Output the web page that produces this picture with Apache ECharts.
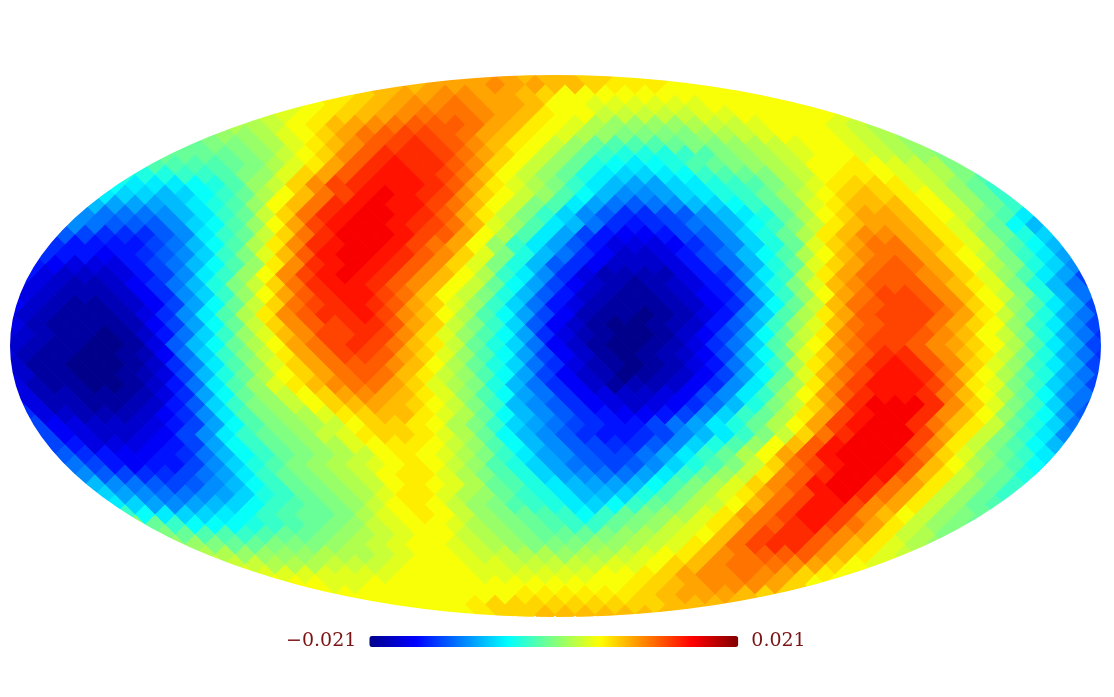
<!DOCTYPE html>
<html>
<head>
<meta charset="utf-8">
<style>html,body{margin:0;padding:0;background:#fff}#chart{width:1114px;height:697px}</style>
<script src="https://cdn.jsdelivr.net/npm/echarts@6/dist/echarts.min.js"></script>
</head>
<body>
<div id="chart"></div>
<script>
// map values in units of 0.001, one list per lattice row from the north pole down
var mapRows = [
[8,8,9,9,9,9,8,8,8,7,7,6,6,6,5,5],
[8,8,9,9,9,10,9,9,8,8,7,6,6,6,5,5,5],
[6,7,8,9,9,10,10,9,9,8,7,5,5,5,5,5,5,5,5,5,5,5],
[4,5,6,7,8,9,10,10,11,10,9,9,8,5,5,4,4,4,4,4,4,5,5,5,5,5,5],
[3,4,5,6,7,8,9,10,11,11,11,10,9,8,6,5,5,3,3,3,3,3,4,4,5,5,5,5,5,4],
[2,2,3,5,6,8,9,10,11,12,12,12,11,9,8,6,5,4,2,1,1,1,1,2,3,3,4,5,5,5,4,3,2],
[0,1,1,2,4,5,7,9,11,12,13,13,12,11,9,8,6,5,4,2,1,0,0,0,0,1,2,3,4,5,5,5,4,3,2,1],
[-1,-1,0,0,1,2,4,6,8,10,12,13,14,13,12,10,8,6,5,3,1,-1,-2,-2,-2,-1,0,0,1,2,3,4,5,5,4,3,2,1,0],
[-1,-1,-1,-1,0,1,3,5,7,10,12,14,14,14,13,11,9,7,5,3,1,-1,-3,-4,-4,-4,-3,-2,0,1,2,3,4,5,5,4,3,2,1,0],
[-3,-2,-2,-2,-2,-1,0,2,4,6,9,12,14,15,14,14,12,10,7,5,3,1,-1,-4,-5,-6,-5,-4,-2,-1,0,1,2,3,5,5,6,5,4,3,2,0,-1],
[-4,-4,-4,-3,-3,-2,0,1,4,7,9,12,14,15,15,14,13,11,8,5,3,1,-1,-4,-6,-7,-7,-6,-5,-3,-2,-1,0,2,3,5,6,6,5,4,3,2,0,-2],
[-5,-6,-6,-6,-5,-4,-2,1,3,7,10,13,14,15,15,15,14,12,9,6,4,2,0,-3,-6,-8,-9,-9,-7,-6,-4,-3,-2,0,2,4,6,7,7,6,4,3,1,-1,-3],
[-7,-6,-7,-7,-8,-7,-5,-3,-1,2,5,8,11,13,15,16,15,14,13,10,7,5,3,1,-2,-5,-8,-10,-10,-9,-7,-6,-4,-3,-1,1,3,5,7,8,7,6,5,3,1,-1,-3,-5],
[-8,-8,-9,-9,-9,-8,-6,-4,-2,1,5,8,11,14,15,16,15,15,13,11,8,5,3,0,-2,-6,-9,-11,-12,-11,-10,-8,-7,-5,-3,-1,1,4,6,8,8,8,6,5,3,1,-1,-3,-6],
[-9,-10,-11,-11,-11,-10,-8,-6,-3,-1,3,7,11,14,15,16,16,15,14,12,9,6,3,0,-3,-7,-10,-12,-14,-14,-13,-12,-10,-8,-6,-4,-1,2,5,7,9,9,8,6,5,3,0,-2,-6,-9],
[-10,-10,-11,-12,-12,-12,-10,-7,-5,-2,1,5,9,13,15,16,16,15,14,13,11,8,4,1,-2,-6,-8,-11,-14,-15,-14,-13,-11,-10,-8,-5,-3,0,3,6,8,9,9,8,6,4,2,-1,-5,-8,-10],
[-11,-12,-13,-14,-14,-14,-12,-10,-6,-3,-1,3,7,11,14,16,16,16,15,13,12,9,5,2,-2,-6,-9,-13,-15,-16,-16,-15,-13,-12,-10,-7,-4,-1,2,6,8,10,10,9,8,6,4,1,-1,-4,-7,-10],
[-12,-14,-15,-15,-15,-15,-13,-11,-8,-5,-2,2,6,10,14,15,16,16,15,13,11,9,5,1,-3,-6,-9,-12,-15,-17,-17,-17,-16,-14,-12,-10,-7,-4,-1,4,7,9,11,11,9,8,6,4,1,-2,-5,-8,-11],
[-13,-14,-15,-15,-16,-15,-14,-12,-10,-7,-3,0,4,8,12,15,16,16,15,14,12,10,7,4,0,-4,-8,-11,-14,-16,-18,-18,-17,-15,-13,-11,-8,-5,-2,2,5,8,10,11,11,9,7,5,3,0,-3,-6,-9,-12],
[-14,-15,-16,-17,-17,-17,-15,-13,-11,-8,-5,-2,1,6,10,14,15,16,15,14,12,10,7,4,0,-4,-8,-12,-14,-16,-18,-18,-18,-17,-15,-13,-11,-8,-4,-1,4,7,9,11,12,11,9,7,5,2,0,-4,-7,-10,-13],
[-15,-17,-18,-18,-18,-17,-15,-13,-10,-6,-3,1,5,10,13,15,16,15,14,12,10,8,5,2,-3,-6,-10,-14,-17,-19,-19,-19,-19,-17,-15,-14,-10,-6,-3,2,6,9,11,12,12,10,9,7,4,1,-2,-6,-9,-13],
[-15,-17,-18,-19,-19,-18,-16,-14,-11,-8,-4,0,3,7,11,14,15,15,14,12,10,8,5,3,-1,-5,-9,-13,-16,-18,-19,-20,-19,-18,-17,-15,-13,-8,-4,0,4,8,10,12,12,12,10,8,6,4,0,-4,-8,-11,-14],
[-15,-17,-18,-19,-19,-19,-18,-16,-14,-10,-7,-3,1,5,9,12,14,15,15,13,11,8,5,3,0,-4,-8,-12,-15,-18,-19,-20,-20,-19,-18,-16,-15,-12,-7,-3,1,5,9,11,13,13,12,10,8,5,3,0,-4,-8,-11,-14],
[-16,-18,-19,-20,-20,-19,-18,-16,-13,-9,-5,-1,3,7,11,13,14,15,14,12,9,7,4,1,-3,-7,-11,-15,-17,-19,-20,-20,-20,-19,-18,-16,-14,-10,-5,-1,3,8,11,12,13,13,12,10,7,5,1,-2,-6,-9,-13],
[-16,-18,-19,-20,-20,-20,-19,-17,-14,-10,-6,-2,2,6,10,12,14,14,15,13,10,8,5,2,-2,-5,-9,-13,-16,-19,-20,-20,-21,-20,-19,-17,-15,-11,-7,-2,2,6,9,12,13,13,13,11,9,6,3,0,-4,-8,-11,-14],
[-16,-17,-19,-20,-20,-20,-20,-19,-16,-13,-9,-5,-1,3,7,10,12,13,14,14,12,9,7,3,0,-3,-7,-12,-16,-18,-20,-21,-21,-20,-19,-18,-15,-12,-8,-3,1,4,8,11,12,13,13,11,9,7,5,1,-3,-6,-10,-13,-15],
[-17,-18,-19,-20,-20,-21,-20,-18,-15,-11,-7,-3,1,4,8,10,13,13,14,13,10,7,4,1,-2,-5,-9,-14,-17,-19,-20,-21,-21,-20,-18,-16,-13,-10,-5,-1,3,6,10,12,13,13,12,10,8,5,3,0,-4,-8,-11,-14],
[-17,-18,-19,-20,-20,-21,-21,-20,-17,-12,-8,-5,-1,2,5,9,11,13,14,13,11,8,6,3,-1,-4,-7,-11,-16,-18,-20,-21,-21,-20,-19,-17,-14,-11,-7,-2,2,5,9,11,13,13,12,10,9,7,5,2,-2,-6,-9,-13,-15],
[-17,-19,-20,-20,-21,-21,-20,-19,-16,-11,-7,-3,0,3,6,9,11,13,13,12,9,7,4,1,-2,-5,-9,-13,-16,-18,-20,-21,-20,-19,-18,-16,-13,-9,-5,-1,4,7,10,12,14,14,12,10,8,6,3,0,-4,-8,-11,-14],
[-17,-18,-20,-20,-21,-21,-21,-20,-18,-14,-10,-6,-2,1,4,7,9,11,12,12,10,8,5,2,-1,-4,-7,-11,-14,-17,-19,-20,-21,-20,-19,-17,-15,-11,-7,-3,2,6,9,12,14,15,14,12,10,7,4,1,-3,-6,-9,-13,-15],
[-17,-18,-20,-20,-21,-21,-20,-19,-17,-13,-8,-4,-1,2,5,7,9,11,12,11,8,6,3,1,-2,-5,-9,-13,-16,-18,-19,-21,-20,-19,-18,-16,-13,-9,-5,-1,4,8,11,13,15,15,14,11,8,5,2,-1,-4,-8,-11,-13],
[-17,-19,-20,-20,-21,-21,-20,-18,-15,-11,-6,-2,1,4,6,8,10,11,11,9,7,4,2,0,-4,-8,-11,-14,-16,-18,-20,-19,-19,-18,-16,-14,-10,-6,-1,2,6,10,13,15,15,15,13,10,6,4,0,-3,-7,-10,-13],
[-16,-17,-19,-19,-20,-20,-20,-19,-17,-14,-9,-5,-1,1,3,5,7,9,10,9,8,6,4,1,-2,-5,-9,-11,-14,-16,-17,-18,-18,-17,-16,-13,-10,-6,-3,1,5,9,12,14,15,15,14,11,8,5,2,-1,-5,-9,-11,-13],
[-15,-17,-19,-19,-20,-20,-19,-18,-15,-12,-7,-3,0,1,3,5,7,8,9,8,7,5,3,0,-3,-8,-10,-12,-14,-16,-17,-18,-17,-16,-14,-11,-8,-4,0,3,7,10,14,16,16,16,14,10,7,4,0,-3,-7,-11,-13],
[-14,-17,-18,-19,-19,-19,-18,-16,-14,-10,-6,-2,0,1,2,4,6,7,8,8,6,4,2,-1,-5,-8,-10,-12,-14,-15,-16,-16,-15,-13,-10,-7,-3,-1,2,6,9,13,15,16,16,14,10,8,5,1,-2,-5,-9,-12],
[-11,-13,-16,-17,-18,-18,-18,-17,-15,-13,-9,-5,-2,0,1,2,3,5,7,7,6,5,2,0,-3,-7,-9,-11,-13,-14,-15,-15,-13,-11,-9,-6,-4,-1,2,5,9,13,15,16,16,14,11,8,6,3,-1,-4,-7,-11,-13],
[-11,-13,-16,-17,-18,-18,-17,-16,-13,-10,-6,-3,-1,0,1,3,4,6,7,7,6,4,2,-1,-5,-8,-10,-12,-14,-15,-15,-14,-13,-10,-8,-6,-3,0,3,7,11,14,16,16,16,13,9,6,3,0,-3,-6,-10,-12],
[-10,-13,-15,-17,-17,-17,-16,-15,-13,-9,-5,-3,-1,0,1,2,4,5,6,6,5,3,1,-2,-5,-8,-10,-12,-13,-14,-14,-12,-10,-7,-4,-2,1,5,8,12,15,16,16,16,13,10,6,3,0,-2,-5,-8,-11],
[-9,-12,-14,-15,-16,-16,-15,-14,-11,-8,-5,-3,-1,0,1,2,3,5,6,5,4,2,0,-3,-6,-9,-10,-12,-13,-13,-11,-9,-6,-3,-1,2,5,9,12,15,16,16,16,14,11,7,4,1,-1,-3,-6,-9],
[-9,-11,-13,-15,-16,-15,-15,-13,-10,-7,-4,-2,0,1,2,3,4,5,6,5,3,1,-2,-4,-7,-9,-11,-12,-13,-12,-10,-7,-4,-2,0,3,7,11,13,15,16,16,15,12,8,5,2,0,-2,-5,-7],
[-8,-10,-12,-13,-14,-14,-13,-11,-9,-6,-3,-1,0,1,2,3,5,6,6,4,2,0,-2,-4,-7,-9,-10,-11,-11,-9,-6,-3,-1,1,3,6,10,12,14,16,16,15,12,8,6,3,0,-1,-4,-6],
[-6,-8,-10,-11,-12,-13,-12,-10,-8,-5,-3,-1,0,1,2,3,5,6,5,4,2,-1,-2,-4,-6,-8,-9,-9,-8,-5,-2,0,2,4,7,10,12,15,16,16,14,11,9,6,3,1,-1,-3,-5],
[-5,-7,-9,-10,-11,-11,-10,-9,-7,-4,-3,-1,0,1,2,4,6,6,4,2,1,-1,-3,-4,-6,-8,-8,-7,-4,-2,0,2,4,6,9,11,13,15,16,14,11,9,6,3,1,-1,-3,-5],
[-6,-7,-9,-10,-9,-8,-7,-5,-3,-2,-1,0,1,3,5,6,5,3,1,0,-2,-3,-4,-6,-7,-5,-3,-1,0,2,3,5,8,11,13,15,15,13,10,9,6,3,1,-1,-2],
[-3,-5,-6,-7,-7,-6,-5,-3,-2,-1,-1,0,2,4,5,6,5,3,1,0,-1,-2,-3,-5,-3,-1,0,1,2,4,6,9,11,13,15,15,13,10,8,5,3,1,0,-1],
[0,-1,-3,-5,-5,-5,-4,-3,-2,-1,0,1,3,4,5,5,4,2,1,0,-1,-2,-3,-3,-1,0,1,3,4,6,8,11,12,14,15,13,11,9,6,3,1,0,-1],
[0,-1,-2,-2,-3,-2,-1,-1,0,1,2,3,4,5,5,3,2,1,0,-1,-1,-1,0,1,2,3,4,5,8,11,13,14,14,12,10,9,6,3,2,0],
[1,1,0,-1,-1,0,0,0,1,2,3,4,5,5,4,3,2,1,0,0,0,1,1,2,3,4,6,8,11,13,14,14,12,10,8,6,4,2,1],
[2,2,1,1,1,1,2,2,2,3,4,5,5,4,3,3,2,2,1,2,2,3,4,5,6,8,10,11,12,12,12,10,8,6,4,3],
[3,3,2,2,2,3,3,3,4,5,5,5,4,4,3,3,3,3,3,4,4,5,7,8,10,11,11,11,10,9,7,5,4],
[4,4,4,4,4,4,4,5,5,5,5,4,4,4,4,4,4,5,5,6,7,9,10,10,11,10,9,7,6,5],
[5,5,4,4,5,5,5,5,5,5,5,5,5,5,5,5,5,6,7,8,9,10,10,10,9,7,5],
[5,5,5,5,5,5,5,5,5,6,6,6,6,6,6,7,8,9,9,9,8,7],
[5,5,5,5,6,7,7,7,7,7,7,7,7,7,8,8,8],
[5,5,5,5,6,7,7,8,8,8,8,8,8,8,8,8]
];
var valueMin = -21;
var valueMax = 21;
var barLabels = ['0.021', '\u22120.021'];
var jetColors = ['#00008b', '#0000ff', '#0080ff', '#00ffff', '#80ff80', '#ffff00', '#ff8000', '#ff0000', '#800000'];

var chart = echarts.init(document.getElementById('chart'));

// lattice: rows 10px apart, diamonds 20px wide, every other row shifted half a cell
var CELL = 20, ROW = 10, CX = 555, CY = 345, A = 545, B = 270;
var midRow = (mapRows.length - 1) / 2;
var points = [];
mapRows.forEach(function (vals, r) {
  var k = Math.abs(r - midRow);
  var w = A * Math.sqrt(1 - Math.pow(Math.min(k, midRow - 1) / midRow, 2));
  var first = k % 2 ? -(Math.ceil(w / CELL - 0.5) + 0.5) : -Math.ceil(w / CELL);
  var y = r - midRow;
  vals.forEach(function (v, i) {
    points.push([first + i, y, v]);
  });
  // repeat the end cells just past the outline so the ring leaves no notches
  points.push([first - 1, y, vals[0]], [first - 2, y, vals[0]]);
  points.push([first + vals.length, y, vals[vals.length - 1]], [first + vals.length + 1, y, vals[vals.length - 1]]);
});

chart.setOption({
  animation: false,
  backgroundColor: '#fff',
  grid: { left: 0, right: 0, top: 0, bottom: 0 },
  xAxis: { type: 'value', min: -CX / CELL, max: (1114 - CX) / CELL, show: false },
  yAxis: { type: 'value', inverse: true, min: -CY / ROW, max: (697 - CY) / ROW, show: false },
  visualMap: {
    type: 'continuous',
    dimension: 2,
    seriesIndex: 0,
    min: valueMin,
    max: valueMax,
    orient: 'horizontal',
    left: 271,
    top: 617,
    itemWidth: 11,
    itemHeight: 369,
    text: barLabels,
    textGap: 13,
    calculable: false,
    hoverLink: false,
    inRange: { color: jetColors },
    textStyle: { color: '#7a1414', fontFamily: 'DejaVu Serif', fontSize: 19 }
  },
  graphic: [{
    // white surround that trims the lattice to the Mollweide outline
    type: 'ring',
    z: 3,
    silent: true,
    x: CX + 0.5,
    y: CY + 1,
    scaleY: (B + 1) / (A + 0.5),
    shape: { cx: 0, cy: 0, r: 640, r0: A + 0.5 },
    style: { fill: '#fff' }
  }],
  series: [{
    type: 'scatter',
    silent: true,
    progressive: 0,
    symbol: 'diamond',
    symbolSize: [CELL + 1, ROW * 2 + 1],
    itemStyle: { opacity: 1 },
    data: points
  }]
});
</script>
</body>
</html>
